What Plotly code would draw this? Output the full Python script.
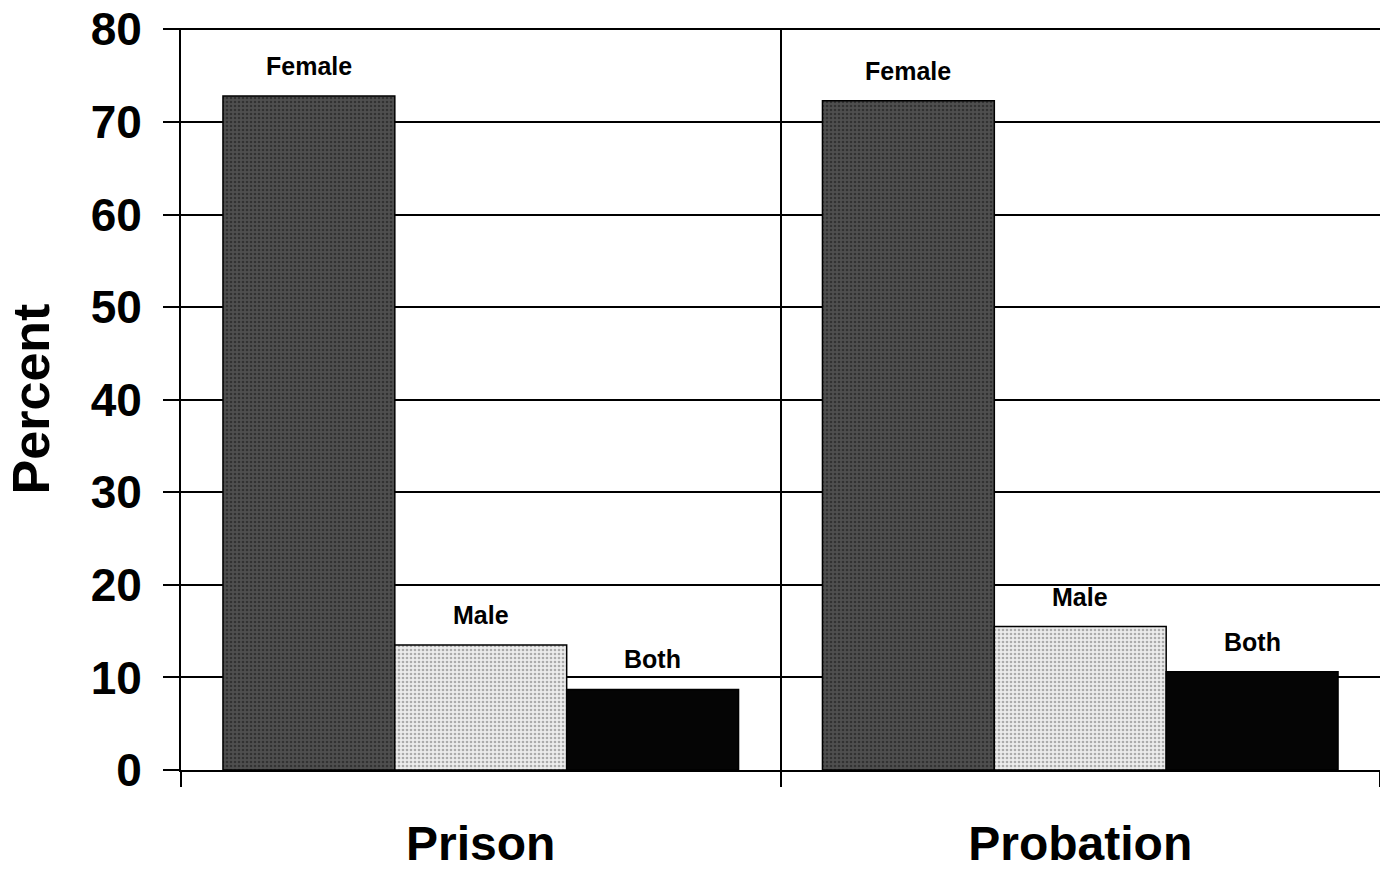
import plotly.graph_objects as go

categories = ['Prison', 'Probation']
series_names = ['Female', 'Male', 'Both']
female = [72.8, 72.3]
male = [13.5, 15.5]
both = [8.7, 10.6]

bar_fill = {'Female': '#4f4f4f', 'Male': '#ececec', 'Both': '#050505'}
dot_fill = {'Female': '#161616', 'Male': '#6a6a6a', 'Both': '#050505'}
bar_gap = 0.14
font_family = 'Liberation Sans, Arial, sans-serif'

fig = go.Figure()
for name, vals in zip(series_names, [female, male, both]):
    fig.add_trace(go.Bar(
        x=categories, y=vals, name=name,
        marker=dict(color=bar_fill[name], line=dict(color='black', width=1.5),
                    pattern=dict(shape='.' if name != 'Both' else '', size=4, solidity=0.35,
                                 fgcolor=dot_fill[name], fillmode='overlay')),
    ))

# labels above the bars, offset within each group
n = len(series_names)
group_w = 1 - bar_gap
for j, (name, vals) in enumerate(zip(series_names, [female, male, both])):
    for i, v in enumerate(vals):
        fig.add_annotation(x=i + (j - (n - 1) / 2) * group_w / n, y=v, xref='x', yref='y',
                           text='<b>%s</b>' % name, showarrow=False, yanchor='bottom', yshift=14,
                           font=dict(family=font_family, size=25, color='black'))

fig.update_layout(
    width=1380, height=870,
    barmode='group', bargap=bar_gap, bargroupgap=0,
    plot_bgcolor='white', paper_bgcolor='white',
    showlegend=False,
    margin=dict(l=181, r=0, t=28, b=100),
    font=dict(family=font_family, color='black'),
)
fig.update_xaxes(
    range=[-0.5, 1.5], showline=True, linecolor='black', linewidth=2, automargin=False,
    tickson='boundaries', ticks='outside', ticklen=15, tickwidth=2, tickcolor='black',
    showgrid=True, gridcolor='black', gridwidth=2,
    tickfont=dict(size=48, family=font_family), ticklabelstandoff=30,
    tickprefix='<b>', ticksuffix='</b>',
)
fig.update_yaxes(
    range=[0, 80.15], dtick=10, showline=True, linecolor='black', linewidth=2, automargin=False,
    ticks='outside', ticklen=16, tickwidth=2, tickcolor='black',
    showgrid=True, gridcolor='black', gridwidth=2, zeroline=False,
    tickfont=dict(size=46, family=font_family), tickprefix='<b>', ticksuffix='</b>',
    ticklabelstandoff=12, ticklabeloverflow='allow',
    title=dict(text='<b>Percent</b>', font=dict(size=52, family=font_family), standoff=24),
)

# drop the default 8px body margin so the figure sits at the page corner
fig.write_html("out.html", config={'displayModeBar': False},
               post_script="document.body.style.margin='0';")
